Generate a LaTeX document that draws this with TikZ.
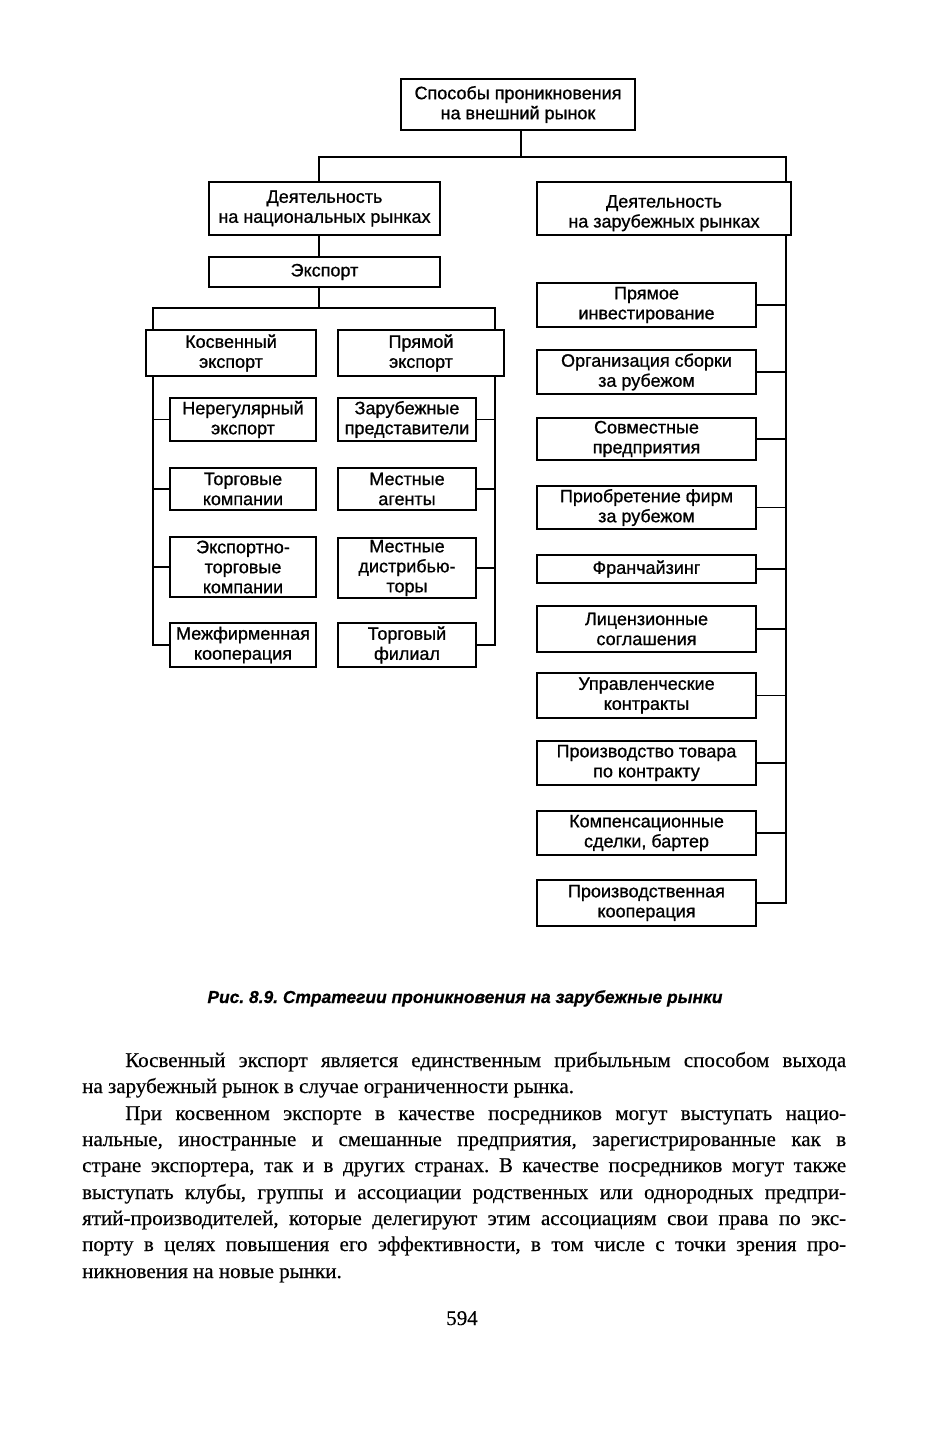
\documentclass[tikz,border=0pt]{standalone}
\usepackage{fontspec}
\setmainfont[FakeBold=0.4]{Liberation Serif}
\newfontfamily\dgfont[FakeBold=0.8]{Liberation Sans}
\newfontfamily\capfont[FakeBold=0.6]{Liberation Sans}
\usetikzlibrary{calc}
\frenchspacing
\tikzset{
  bx/.style={draw, line width=1.2pt, inner sep=0pt, align=center,
    font=\dgfont\fontsize{18}{20}\selectfont},
  ln/.style={line width=1.2pt},
  para/.style={inner sep=0pt, anchor=base west, font=\fontsize{21}{25}\selectfont},
}
\newcommand{\bxat}[6]{% name, x1,y1,x2,y2, text
  \node[bx, minimum width={#4-#2}, minimum height={#5-#3}] (#1) at ({(#2+#4)/2},{(#3+#5)/2}) {#6};}
\begin{document}
\begin{tikzpicture}[x=1pt,y=-1pt]
\useasboundingbox[fill=white] (0,0) rectangle (926,1442);

% boxes
\bxat{top}{401}{79}{635}{130}{Способы проникновения\\на внешний рынок}
\bxat{nat}{209}{182}{440}{235}{Деятельность\\на национальных рынках}
\bxat{forn}{537}{182}{791}{235}{\raisebox{-5pt}[\height][\depth]{\begin{tabular}{@{}c@{}}Деятельность\\на зарубежных рынках\end{tabular}}}
\bxat{exp}{209}{257}{440}{287}{Экспорт}
\bxat{kos}{146}{330}{316}{376}{Косвенный\\экспорт}
\bxat{pr}{338}{330}{504}{376}{Прямой\\экспорт}
\bxat{l1}{170}{398}{316}{441}{Нерегулярный\\экспорт}
\bxat{l2}{170}{468}{316}{510}{Торговые\\компании}
\bxat{l3}{170}{537}{316}{597}{Экспортно-\\торговые\\компании}
\bxat{l4}{170}{623}{316}{667}{Межфирменная\\кооперация}
\bxat{p1}{338}{398}{476}{441}{Зарубежные\\представители}
\bxat{p2}{338}{468}{476}{510}{Местные\\агенты}
\bxat{p3}{338}{538}{476}{598}{Местные\\дистрибью-\\торы}
\bxat{p4}{338}{623}{476}{667}{Торговый\\филиал}
\bxat{r1}{537}{283}{756}{327}{Прямое\\инвестирование}
\bxat{r2}{537}{350}{756}{394}{Организация сборки\\за рубежом}
\bxat{r3}{537}{418}{756}{460}{Совместные\\предприятия}
\bxat{r4}{537}{486}{756}{529}{Приобретение фирм\\за рубежом}
\bxat{r5}{537}{555}{756}{583}{Франчайзинг}
\bxat{r6}{537}{606}{756}{652}{Лицензионные\\соглашения}
\bxat{r7}{537}{673}{756}{718}{Управленческие\\контракты}
\bxat{r8}{537}{741}{756}{785}{Производство товара\\по контракту}
\bxat{r9}{537}{811}{756}{855}{Компенсационные\\сделки, бартер}
\bxat{r10}{537}{880}{756}{926}{Производственная\\кооперация}

% connector helper coordinates
\coordinate (b1) at (521,157);
\coordinate (nx) at (319,0);
\coordinate (fx) at (786,0);
\coordinate (b2) at (319,308);
\coordinate (kx) at (153,0);
\coordinate (px) at (495,0);

% top level
\draw[ln] (top.south -| b1) -- (b1);
\draw[ln] (nat.north -| nx) |- (b1) -| (forn.north -| fx);
% national side
\draw[ln] (nat.south -| nx) -- (exp.north -| nx);
\draw[ln] (exp.south -| nx) -- (b2);
\draw[ln] (kos.north -| kx) |- (b2) -| (pr.north -| px);
% indirect export spine
\draw[ln] (kos.south -| kx) |- (l4.west);
\foreach \n in {l1,l2,l3} \draw[ln] (\n.west) -- (\n.west -| kx);
% direct export spine
\draw[ln] (pr.south -| px) |- (p4.east);
\foreach \n in {p1,p2,p3} \draw[ln] (\n.east) -- (\n.east -| px);
% foreign spine
\draw[ln] (forn.south -| fx) |- (r10.east);
\foreach \n in {r1,r2,r3,r4,r5,r6,r7,r8,r9} \draw[ln] (\n.east) -- (\n.east -| fx);

% caption
\node[inner sep=0pt, anchor=base, font=\capfont\bfseries\itshape\fontsize{17.4}{20}\selectfont] (cap) at (465,1003)
  {Рис. 8.9. Стратегии проникновения на зарубежные рынки};

% body text
\node[para] (t1) at (125,1067) {\makebox[721pt][s]{Косвенный экспорт является единственным прибыльным способом выхода}};
\node[para] (t2) at (82,1093) {на зарубежный рынок в случае ограниченности рынка.};
\node[para] (t3) at (125,1120) {\makebox[721pt][s]{При косвенном экспорте в качестве посредников могут выступать нацио-}};
\node[para] (t4) at (82,1146) {\makebox[764pt][s]{нальные, иностранные и смешанные предприятия, зарегистрированные как в}};
\node[para] (t5) at (82,1172) {\makebox[764pt][s]{стране экспортера, так и в других странах. В качестве посредников могут также}};
\node[para] (t6) at (82,1199) {\makebox[764pt][s]{выступать клубы, группы и ассоциации родственных или однородных предпри-}};
\node[para] (t7) at (82,1225) {\makebox[764pt][s]{ятий-производителей, которые делегируют этим ассоциациям свои права по экс-}};
\node[para] (t8) at (82,1251) {\makebox[764pt][s]{порту в целях повышения его эффективности, в том числе с точки зрения про-}};
\node[para] (t9) at (82,1278) {никновения на новые рынки.};

\node[inner sep=0pt, anchor=base, font=\fontsize{21}{25}\selectfont] (pg) at (462,1325) {594};
\end{tikzpicture}
\end{document}
